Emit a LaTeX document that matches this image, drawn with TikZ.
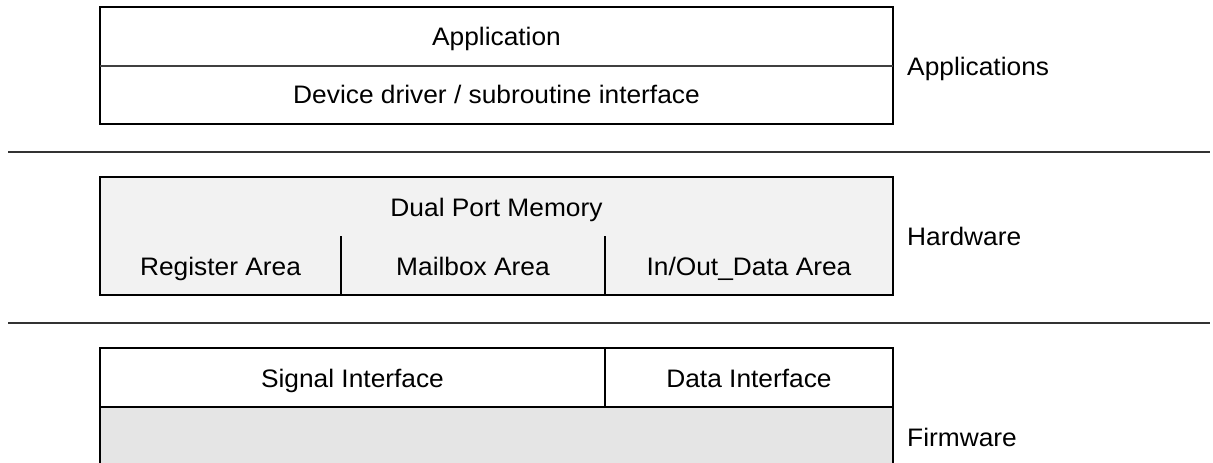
\documentclass[tikz,border=0pt]{standalone}
\usepackage{fontspec}
\setmainfont[FakeStretch=1.04]{Liberation Sans}
\begin{document}
\begin{tikzpicture}[x=1pt,y=-1pt,
  outer/.style={draw=black,line width=2.6pt},
  inner/.style={draw=black,line width=2pt},
  thin/.style={draw=black!75,line width=1.2pt},
  sep/.style={draw=black!80,line width=1.8pt},
  lbl/.style={font=\fontsize{25.3}{29}\selectfont,inner sep=0pt,anchor=base},
  side/.style={lbl,anchor=base west}]
\useasboundingbox (0,0) rectangle (1213,463);
\clip (0,0) rectangle (1213,463);
% Applications box
\draw[outer] (100,7) rectangle (893,124);
\draw[thin] (100,66) -- (893,66);
\node[lbl] (app) at (496.5,45.5) {Application};
\node[lbl] (drv) at (496.5,103) {Device driver / subroutine interface};
\node[side] (lapp) at (907,75) {Applications};
% separator 1
\coordinate (s1a) at (8,152);
\coordinate (s1b) at (1210,152);
\draw[sep] (s1a) -- (s1b);
% Hardware box
\draw[outer,fill=black!5] (100,177) rectangle (893,295);
\draw[inner] (341,236) -- (341,295);
\draw[inner] (605,236) -- (605,295);
\node[lbl] (dpm) at (496.5,216) {Dual Port Memory};
\node[lbl] (reg) at (220.5,275) {Register Area};
\node[lbl] (mb) at (473,275) {Mailbox Area};
\node[lbl] (io) at (749,275) {In/Out\_Data Area};
\node[side] (lhw) at (907,245) {Hardware};
% separator 2
\coordinate (s2a) at (8,323);
\coordinate (s2b) at (1210,323);
\draw[sep] (s2a) -- (s2b);
% Firmware box
\draw[outer,fill=black!10] (100,407) rectangle (893,480);
\draw[outer,fill=white] (100,348) rectangle (893,407);
\draw[inner] (605,348) -- (605,407);
\node[lbl] (sig) at (352.5,387) {Signal Interface};
\node[lbl] (dat) at (749,387) {Data Interface};
\node[side] (lfw) at (907,446) {Firmware};
\end{tikzpicture}
\end{document}
